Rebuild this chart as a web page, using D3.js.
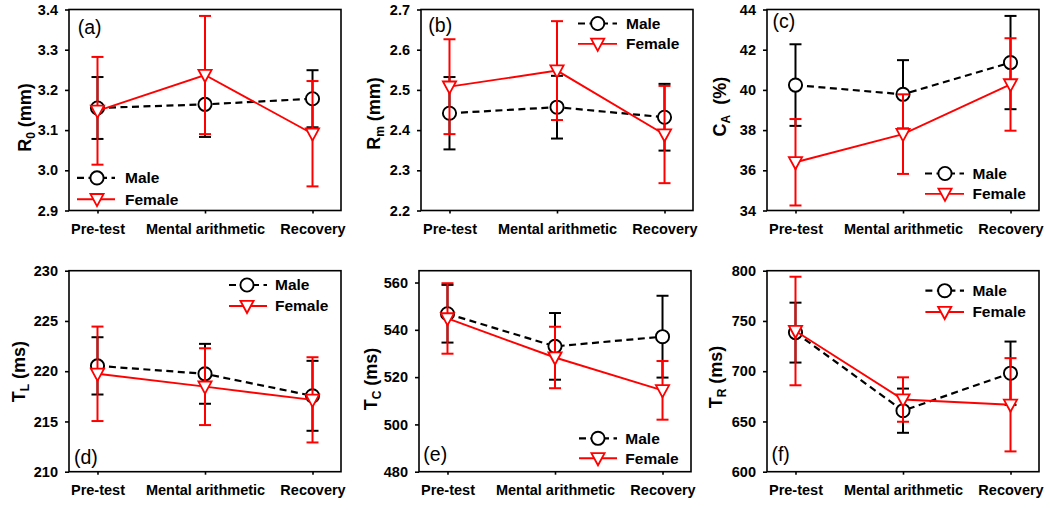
<!DOCTYPE html>
<html><head><meta charset="utf-8">
<script src="https://cdn.jsdelivr.net/npm/d3@7"></script>
<style>
body{margin:0;background:#fff}
svg{display:block}
text{font-family:"Liberation Sans",Arial,Helvetica,sans-serif}
</style>
</head><body>
<svg id="chart" width="1050" height="510"></svg>
<script>
// ---------------- data ----------------
const categories = ["Pre-test", "Mental arithmetic", "Recovery"];
const seriesNames = ["Male", "Female"];

// (a) R0 (mm)
const r0Male = [3.155, 3.164, 3.178];
const r0MaleErr = [0.077, 0.081, 0.071];
const r0Female = [3.148, 3.237, 3.091];
const r0FemaleErr = [0.134, 0.147, 0.131];
const r0Ticks = [2.9, 3.0, 3.1, 3.2, 3.3, 3.4];

// (b) Rm (mm)
const rmMale = [2.442, 2.457, 2.432];
const rmMaleErr = [0.090, 0.078, 0.083];
const rmFemale = [2.508, 2.548, 2.389];
const rmFemaleErr = [0.118, 0.123, 0.121];
const rmTicks = [2.2, 2.3, 2.4, 2.5, 2.6, 2.7];

// (c) CA (%)
const caMale = [40.24, 39.78, 41.36];
const caMaleErr = [2.03, 1.70, 2.32];
const caFemale = [36.40, 37.80, 40.27];
const caFemaleErr = [2.15, 1.98, 2.30];
const caTicks = [34, 36, 38, 40, 42, 44];

// (d) TL (ms)
const tlMale = [220.53, 219.74, 217.55];
const tlMaleErr = [2.85, 2.98, 3.48];
const tlFemale = [219.74, 218.46, 217.15];
const tlFemaleErr = [4.70, 3.82, 4.24];
const tlTicks = [210, 215, 220, 225, 230];

// (e) TC (ms)
const tcMale = [546.8, 533.0, 537.1];
const tcMaleErr = [12.2, 14.1, 17.3];
const tcFemale = [544.8, 528.3, 514.4];
const tcFemaleErr = [14.9, 13.0, 12.4];
const tcTicks = [480, 500, 520, 540, 560];

// (f) TR (ms)
const trMale = [738.4, 660.7, 698.0];
const trMaleErr = [29.8, 22.0, 31.5];
const trFemale = [740.0, 671.8, 666.6];
const trFemaleErr = [54.0, 22.1, 46.4];
const trTicks = [600, 650, 700, 750, 800];

// ---------------- layout ----------------
const PW = 272, PH = 201;
const panels = [
  {letter:"(a)", male:r0Male, maleErr:r0MaleErr, female:r0Female, femaleErr:r0FemaleErr,
   domain:[2.9,3.4], ticks:r0Ticks, fmt:d3.format(".1f"),
   lab:["R","0"," (mm)"], x0:69, y0:9.5, labX:30.5, labCY:117.5,
   letterX:8.7, letterY:24.7,
   leg:{x1:8,x2:46,mx:28,tx:56,y1:168.4,y2:189.7}},
  {letter:"(b)", male:rmMale, maleErr:rmMaleErr, female:rmFemale, femaleErr:rmFemaleErr,
   domain:[2.2,2.7], ticks:rmTicks, fmt:d3.format(".1f"),
   lab:["R","m"," (mm)"], x0:421, y0:9.5, labX:380, labCY:113.5,
   letterX:7.3, letterY:22.7,
   leg:{x1:157,x2:196,mx:176.7,tx:205,y1:14,y2:34.4}},
  {letter:"(c)", male:caMale, maleErr:caMaleErr, female:caFemale, femaleErr:caFemaleErr,
   domain:[34,44], ticks:caTicks, fmt:d3.format("d"),
   lab:["C","A","\u00a0 (%)"], x0:767, y0:9.5, labX:726, labCY:106.7,
   letterX:5.4, letterY:18.7,
   leg:{x1:158,x2:197,mx:178,tx:205.5,y1:164,y2:184.4}},
  {letter:"(d)", male:tlMale, maleErr:tlMaleErr, female:tlFemale, femaleErr:tlFemaleErr,
   domain:[210,230], ticks:tlTicks, fmt:d3.format("d"),
   lab:["T","L"," (ms)"], x0:69, y0:270.7, labX:25, labCY:371.7,
   letterX:5, letterY:PH-7.7,
   leg:{x1:160,x2:198,mx:178,tx:206,y1:14.3,y2:35.3}},
  {letter:"(e)", male:tcMale, maleErr:tcMaleErr, female:tcFemale, femaleErr:tcFemaleErr,
   domain:[480,565], ticks:tcTicks, fmt:d3.format("d"),
   lab:["T","C"," (ms)"], x0:419, y0:270.7, labX:376.5, labCY:379,
   letterX:4.3, letterY:PH-10.7,
   leg:{x1:160,x2:198,mx:179,tx:206.3,y1:167.6,y2:187.6}},
  {letter:"(f)", male:trMale, maleErr:trMaleErr, female:trFemale, femaleErr:trFemaleErr,
   domain:[600,800], ticks:trTicks, fmt:d3.format("d"),
   lab:["T","R"," (ms)"], x0:767, y0:270.7, labX:722, labCY:377,
   letterX:4.4, letterY:PH-10.7,
   leg:{x1:158.4,x2:197,mx:177.7,tx:205.4,y1:20,y2:41.3}}
];

const RED = "#ff0000", BLACK = "#000000";
const svg = d3.select("#chart");
svg.append("rect").attr("width",1050).attr("height",510).attr("fill","#fff");

const CIRC_R = 6.6;
function triPath(cx, cy){
  const w = 6.6, top = 5.2, tip = 7.0;
  return `M${cx-w},${cy-top}L${cx+w},${cy-top}L${cx},${cy+tip}Z`;
}

function drawSeries(g, x, y, vals, errs, color, dashed, marker){
  const capW = 6;
  const eb = g.append("g");
  vals.forEach((v,i)=>{
    const cx = x(categories[i]);
    const lo = y(v - errs[i]), hi = y(v + errs[i]);
    eb.append("line").attr("x1",cx).attr("x2",cx).attr("y1",lo).attr("y2",hi)
      .attr("stroke",color).attr("stroke-width",2);
    [lo,hi].forEach(yy=>eb.append("line").attr("x1",cx-capW).attr("x2",cx+capW)
      .attr("y1",yy).attr("y2",yy).attr("stroke",color).attr("stroke-width",2));
  });
  const line = d3.line().x((d,i)=>x(categories[i])).y(d=>y(d));
  g.append("path").datum(vals).attr("d",line).attr("fill","none")
    .attr("stroke",color).attr("stroke-width",dashed?2.2:1.9)
    .attr("stroke-dasharray",dashed?"7,4.5":null);
  vals.forEach((v,i)=>{
    const cx = x(categories[i]), cy = y(v);
    if(marker==="circle"){
      g.append("circle").attr("cx",cx).attr("cy",cy).attr("r",CIRC_R)
        .attr("fill","#fff").attr("stroke",color).attr("stroke-width",1.9);
    } else {
      g.append("path").attr("d",triPath(cx,cy)).attr("fill","#fff")
        .attr("stroke",color).attr("stroke-width",1.8).attr("stroke-linejoin","miter");
    }
  });
}

panels.forEach(p=>{
  const g = svg.append("g").attr("transform",`translate(${p.x0},${p.y0})`);
  const x = d3.scalePoint().domain(categories).range([0,PW]).padding(0.265);
  const y = d3.scaleLinear().domain(p.domain).range([PH,0]);

  const ya = g.append("g").call(d3.axisLeft(y).tickValues(p.ticks).tickFormat(p.fmt).tickSize(4).tickPadding(7));
  ya.select(".domain").remove();
  ya.selectAll("line").attr("stroke",BLACK).attr("stroke-width",1.6);
  ya.selectAll("text").attr("font-size","14.5px").attr("font-weight","bold").attr("fill",BLACK)
    .attr("font-family","'Liberation Sans',Arial,sans-serif");

  const xa = g.append("g").attr("transform",`translate(0,${PH})`)
    .call(d3.axisBottom(x).tickSize(3).tickPadding(10));
  xa.select(".domain").remove();
  xa.selectAll("line").attr("stroke",BLACK).attr("stroke-width",1.6);
  xa.selectAll("text").attr("font-size","14.5px").attr("font-weight","bold").attr("fill",BLACK)
    .attr("font-family","'Liberation Sans',Arial,sans-serif");

  g.append("rect").attr("x",0).attr("y",0).attr("width",PW).attr("height",PH)
    .attr("fill","none").attr("stroke",BLACK).attr("stroke-width",1.6);

  drawSeries(g, x, y, p.male, p.maleErr, BLACK, true, "circle");
  drawSeries(g, x, y, p.female, p.femaleErr, RED, false, "triangle");

  // panel letter
  g.append("text").attr("x",p.letterX).attr("y",p.letterY).text(p.letter)
    .attr("font-size","19.5px").attr("fill",BLACK);

  // legend
  const L = p.leg;
  const lg = g.append("g");
  [[L.y1,BLACK,true,"circle",seriesNames[0]],[L.y2,RED,false,"triangle",seriesNames[1]]].forEach(([yy,col,dash,mk,name])=>{
    lg.append("line").attr("x1",L.x1).attr("x2",L.x2).attr("y1",yy).attr("y2",yy)
      .attr("stroke",col).attr("stroke-width",dash?2.2:1.9).attr("stroke-dasharray",dash?"7,4.5":null);
    if(mk==="circle"){
      lg.append("circle").attr("cx",L.mx).attr("cy",yy).attr("r",CIRC_R)
        .attr("fill","#fff").attr("stroke",col).attr("stroke-width",1.9);
    } else {
      lg.append("path").attr("d",triPath(L.mx,yy)).attr("fill","#fff")
        .attr("stroke",col).attr("stroke-width",1.8);
    }
    lg.append("text").attr("x",L.tx).attr("y",yy+5.5).text(name)
      .attr("font-size","15.5px").attr("font-weight","bold").attr("fill",BLACK);
  });

  // y axis title
  const t = svg.append("text")
    .attr("transform",`translate(${p.labX},${p.labCY}) rotate(-90)`)
    .attr("text-anchor","middle").attr("font-size","18px").attr("font-weight","bold").attr("fill",BLACK);
  t.append("tspan").text(p.lab[0]);
  t.append("tspan").attr("font-size","12px").attr("dy","4").text(p.lab[1]);
  t.append("tspan").attr("dy","-4").text(p.lab[2]);
});
</script>
</body></html>
